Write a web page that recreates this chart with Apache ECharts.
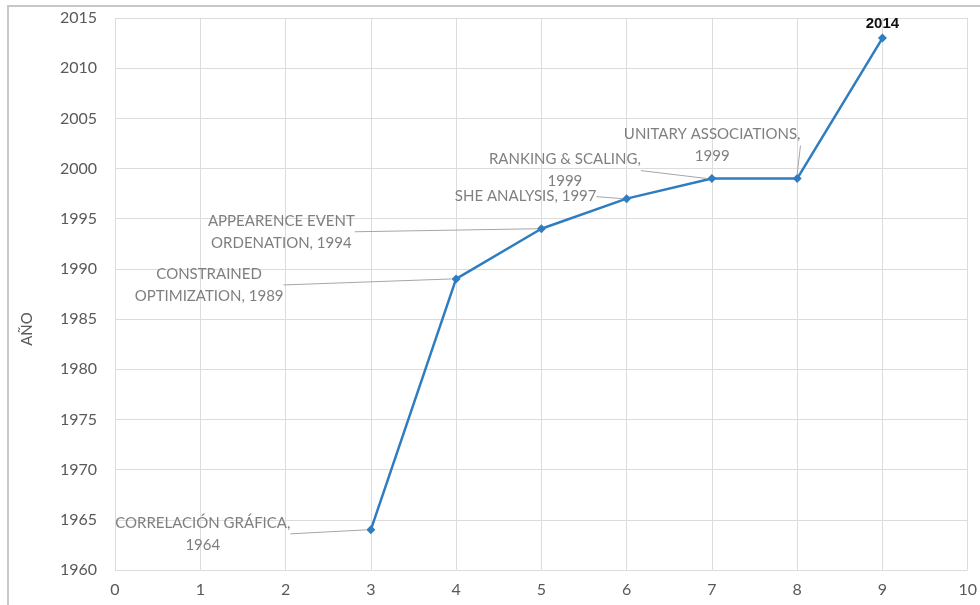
<!DOCTYPE html>
<html>
<head>
<meta charset="utf-8">
<script src="https://cdn.jsdelivr.net/npm/echarts@6/dist/echarts.min.js"></script>
<style>
  html, body { margin: 0; padding: 0; background: #fff; }
  #chart { width: 980px; height: 605px; }
</style>
</head>
<body>
<div id="chart"></div>
<script>
// datos
var posiciones = [3, 4, 5, 6, 7, 8, 9];
var anios = [1964, 1989, 1994, 1997, 1999, 1999, 2013];
var etiquetas = [
    'CORRELACIÓN GRÁFICA,\n1964',
    'CONSTRAINED\nOPTIMIZATION, 1989',
    'APPEARENCE EVENT\nORDENATION, 1994',
    'SHE ANALYSIS, 1997',
    'RANKING & SCALING,\n1999',
    'UNITARY ASSOCIATIONS,\n1999',
    '2014'
];

// desplazamiento de cada etiqueta respecto a su punto
var desplaz = [[-168, 4], [-247, 6], [-260, 3], [-101, -2], [-147, -8], [-85, -33], [0, -14]];

var chart = echarts.init(document.getElementById('chart'));

var puntos = posiciones.map(function (x, i) {
    var ultimo = i === posiciones.length - 1;
    return {
        value: [x, anios[i]],
        label: ultimo ? {
            color: '#111', fontWeight: 'bold', fontFamily: 'Liberation Sans Narrow, Liberation Sans',
            fontSize: 15
        } : {},
        labelLine: { show: !ultimo }
    };
});

var option = {
    animation: false,
    graphic: [{
        type: 'rect',
        shape: { x: 8, y: 6, width: 1000, height: 640 },
        style: { fill: null, stroke: '#c8c8c8', lineWidth: 2 },
        silent: true
    }],
    grid: { left: 115, right: 10, top: 18, bottom: 35 },
    xAxis: {
        type: 'value',
        min: 0, max: 10, interval: 1,
        axisLine: { show: false },
        axisTick: { show: false },
        splitLine: { lineStyle: { color: '#dcdcdc' } },
        axisLabel: { color: '#595959', fontSize: 16, fontFamily: 'Lato', margin: 12 }
    },
    yAxis: {
        type: 'value',
        min: 1960, max: 2015, interval: 5,
        name: 'AÑO',
        nameLocation: 'middle',
        nameGap: 80,
        nameTextStyle: { color: '#595959', fontSize: 15, fontFamily: 'Lato', padding: [0, 70, 0, 0] },
        axisLine: { show: false },
        axisTick: { show: false },
        splitLine: { lineStyle: { color: '#dcdcdc' } },
        axisLabel: {
            color: '#595959', fontSize: 16, fontFamily: 'Lato', margin: 18,
            formatter: function (v) { return String(v); }
        }
    },
    series: [{
        type: 'line',
        data: puntos,
        symbol: 'diamond',
        symbolSize: 9,
        lineStyle: { color: '#2f7dc0', width: 2.5 },
        itemStyle: { color: '#2f7dc0' },
        label: {
            show: true,
            position: 'inside',
            formatter: function (p) { return etiquetas[p.dataIndex]; },
            color: '#7f7f7f',
            fontSize: 15,
            fontFamily: 'Lato',
            lineHeight: 22,
            align: 'center'
        },
        labelLine: { show: true, lineStyle: { color: '#a6a6a6', width: 1 } },
        labelLayout: function (p) {
            var d = desplaz[p.dataIndex];
            return { dx: d[0], dy: d[1] };
        }
    }]
};
chart.setOption(option);
</script>
</body>
</html>
